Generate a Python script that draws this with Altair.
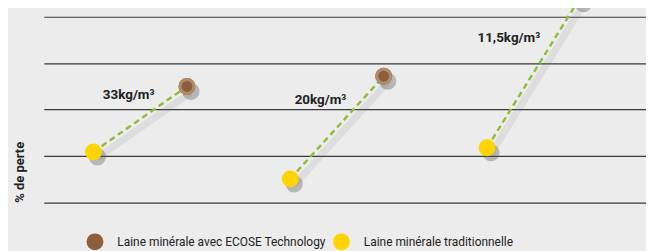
import altair as alt
import pandas as pd

# ---- data ----
groups = ["33kg/m³", "20kg/m³", "11,5kg/m³"]
x_trad = [1.0, 2.0, 3.0]
x_ecose = [1.475, 2.475, 3.47]
y_trad = [1.09, 0.51, 1.18]
y_ecose = [2.50, 2.72, 4.39]
label_x = [1.31, 2.285, 3.27]
label_y = [2.31, 2.20, 3.55]
series = ["Laine minérale avec ECOSE Technology", "Laine minérale traditionnelle"]
colors = ["#8c5e3b", "#ffd400"]
grid_values = [0, 1, 2, 3, 4]

rows = []
for g, xt, yt, xe, ye in zip(groups, x_trad, y_trad, x_ecose, y_ecose):
    rows.append({"group": g, "series": series[1], "x": xt, "y": yt})
    rows.append({"group": g, "series": series[0], "x": xe, "y": ye})
df = pd.DataFrame(rows)
labels = pd.DataFrame({"group": groups, "x": label_x, "y": label_y})

FONT = "Roboto"

xs = alt.Scale(domain=[0.7475, 3.808], nice=False, zero=False)
ys = alt.Scale(domain=[0, 4.171], nice=False, zero=False)
X = alt.X("x:Q", scale=xs, axis=None)
Y = alt.Y("y:Q", scale=ys, axis=alt.Axis(values=grid_values, grid=True, labels=False, ticks=False,
                                          domain=False, gridColor="#3a3a3a", gridWidth=1.2,
                                          title="% de perte", titleFont=FONT, titleFontSize=13,
                                          titleFontWeight="bold", titleColor="#222",
                                          titleX=-24, titleY=164, titleAngle=270,
                                          titleAlign="center", titleBaseline="middle"))

base = alt.Chart(df)

line_shadow = base.mark_line(color="#777", strokeWidth=7, opacity=0.12, clip=False).encode(
    x=X, y=Y, detail="group:N", xOffset=alt.value(4), yOffset=alt.value(6))
lines = base.mark_line(color="#8fbe3c", strokeWidth=2.5, strokeDash=[6, 4]).encode(
    x=X, y=Y, detail="group:N")
pt_shadow = base.mark_circle(color="#555", opacity=0.35, size=300).encode(
    x=X, y=Y, xOffset=alt.value(4), yOffset=alt.value(5))
points = base.mark_circle(size=289, opacity=1).encode(
    x=X, y=Y,
    color=alt.Color("series:N", scale=alt.Scale(domain=series, range=colors),
                    legend=alt.Legend(title=None, orient="none", direction="horizontal",
                                      legendX=43, legendY=226, symbolSize=289,
                                      symbolType="circle", symbolStrokeWidth=0,
                                      labelFont=FONT, labelFontSize=12, labelColor="#222",
                                      labelOffset=14, columnPadding=6, padding=0, labelLimit=400)))
ring = alt.Chart(df[df["series"] == series[0]]).mark_point(
    shape="circle", filled=False, stroke="#b38b6a", strokeWidth=3, size=196, opacity=1).encode(x=X, y=Y)
texts = alt.Chart(labels).mark_text(font=FONT, fontSize=13.5, fontWeight="bold", color="#222",
                                    align="right", baseline="middle").encode(x=X, y=Y, text="group:N")

chart = alt.layer(line_shadow, lines, pt_shadow, points, ring, texts).properties(
    width=606, height=195,
    autosize=alt.AutoSizeParams(type="none"),
    padding={"left": 36, "top": 0, "right": 0, "bottom": 60},
    background="#ececec",
).configure_view(stroke=None)

chart.save("out.html", embed_options={"renderer": "svg", "actions": False})
